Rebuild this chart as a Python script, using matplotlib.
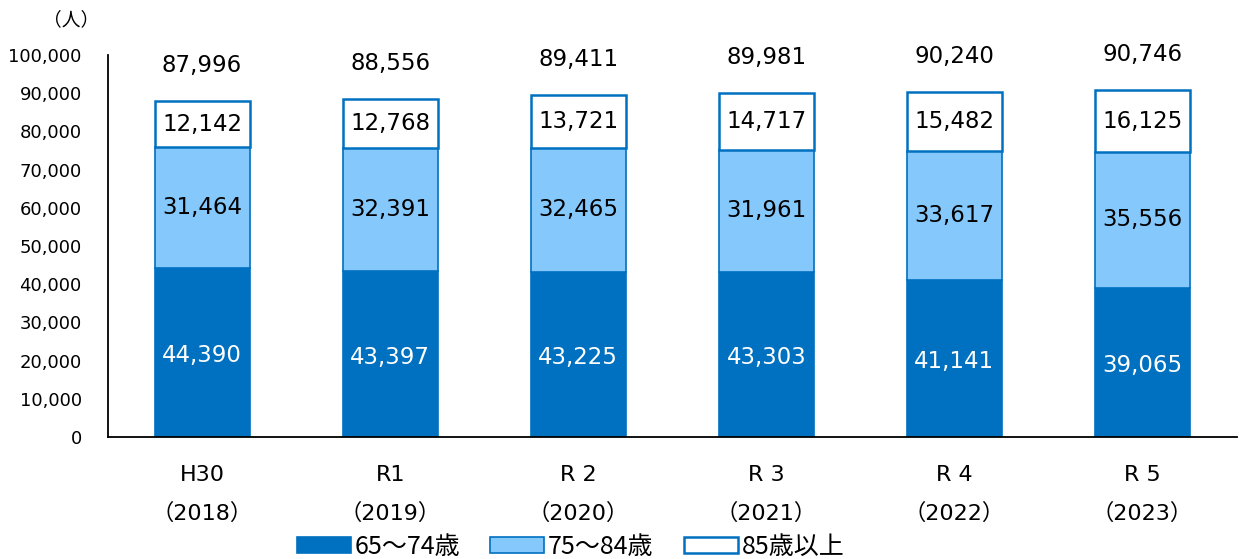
import numpy as np
import matplotlib.pyplot as plt

plt.rcParams['font.family'] = ['DejaVu Sans', 'Noto Sans CJK JP']

years = ['H30\n（2018）', 'R1\n（2019）', 'R 2\n（2020）', 'R 3\n（2021）', 'R 4\n（2022）', 'R 5\n（2023）']
age_65_74 = [44390, 43397, 43225, 43303, 41141, 39065]
age_75_84 = [31464, 32391, 32465, 31961, 33617, 35556]
age_85_up = [12142, 12768, 13721, 14717, 15482, 16125]
totals = [87996, 88556, 89411, 89981, 90240, 90746]

dark = '#0070C0'
light = '#85C8FC'

fig = plt.figure(figsize=(12.39, 5.59), dpi=100)
ax = fig.add_axes([0.0872, 0.218, 0.9108, 0.6836])

x = np.arange(len(years))
a = np.array(age_65_74)
b = np.array(age_75_84)
c = np.array(age_85_up)

w = 0.505
ax.bar(x, a, w, color=dark, edgecolor=dark, linewidth=1.2, label='65～74歳')
ax.bar(x, b, w, bottom=a, color=light, edgecolor=dark, linewidth=1.2, label='75～84歳')
ax.bar(x, c, w, bottom=a + b, color='white', edgecolor=dark, linewidth=1.8, label='85歳以上')

for i in range(len(x)):
    ax.text(x[i], a[i] / 2 - 800, f'{a[i]:,}', ha='center', va='center', color='white', fontsize=16.5)
    ax.text(x[i], a[i] + b[i] / 2, f'{b[i]:,}', ha='center', va='center', color='black', fontsize=16.5)
    ax.text(x[i], a[i] + b[i] + c[i] / 2, f'{c[i]:,}', ha='center', va='center', color='black', fontsize=16.5)
    ax.text(x[i], totals[i] + 9300, f'{totals[i]:,}', ha='center', va='center', color='black', fontsize=16.5)

ax.set_xlim(-0.5, len(x) - 0.5)
ax.set_ylim(0, 100000)
ax.set_yticks(np.arange(0, 100001, 10000))
ax.set_yticklabels([f'{v:,}' for v in range(0, 100001, 10000)], fontsize=13)
ax.set_xticks(x)
ax.set_xticklabels(years, fontsize=16, linespacing=2.05)
ax.tick_params(axis='both', length=0)
ax.tick_params(axis='x', pad=20)
ax.tick_params(axis='y', pad=19)
for s in ['top', 'right']:
    ax.spines[s].set_visible(False)
ax.spines['left'].set_linewidth(1.3)
ax.spines['bottom'].set_linewidth(1.3)

fig.text(71 / 1239, 1 - 20 / 559, '（人）', ha='center', va='center', fontsize=13.5)

fig.legend(loc='center', bbox_to_anchor=(570.5 / 1239, 1 - 547 / 559), ncol=3, frameon=False,
           prop={'family': ['Noto Sans CJK JP'], 'size': 18},
           handlelength=2.16, handleheight=0.6, handletextpad=0.16, columnspacing=1.2)

fig.savefig('out.png', dpi=100)
